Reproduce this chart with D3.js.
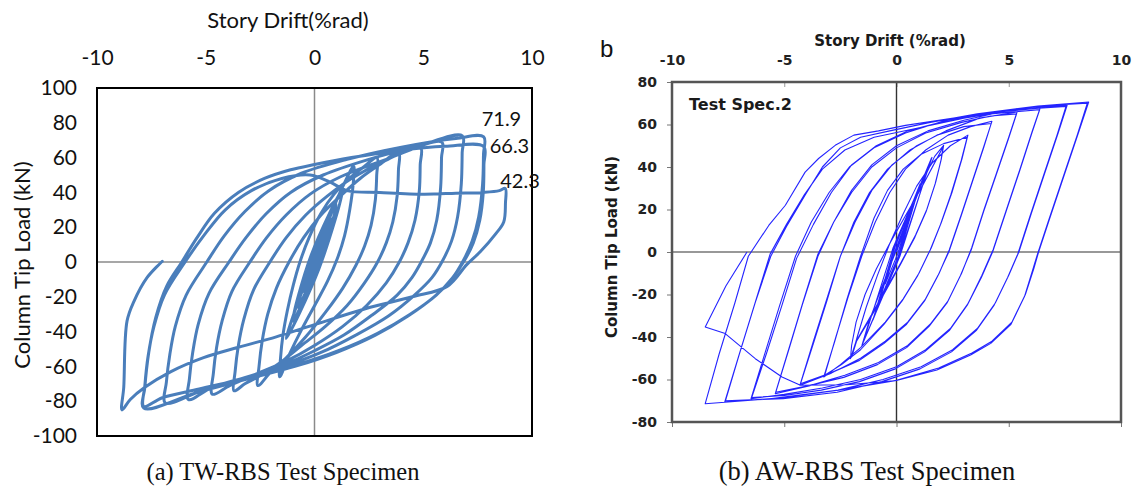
<!DOCTYPE html>
<html>
<head>
<meta charset="utf-8">
<script src="https://cdn.jsdelivr.net/npm/d3@7"></script>
<style>
  html, body { margin: 0; padding: 0; background: #fff; }
  svg { display: block; }
</style>
</head>
<body>
<svg id="chart" width="1137" height="488"></svg>
<script>
// ---------- axis ticks ----------
const driftTicks = [-10, -5, 0, 5, 10];
const twLoadTicks = [100, 80, 60, 40, 20, 0, -20, -40, -60, -80, -100];
const awLoadTicks = [80, 60, 40, 20, 0, -20, -40, -60, -80];
const plainNumber = d => String(d);

// ---------- TW-RBS specimen: [drift %rad, load kN] ----------
const twElastic = [[0,0],[0.5,17],[0.05,-1],[-0.5,-17],[-0.05,1],[0.75,25],[0.1,-2],[-0.75,-26],[-0.1,3],
  [1.0,33],[0.15,-3],[-1.0,-34],[-0.15,4],[1.3,42],[0.2,-4],[-1.3,-44]];
const twCycle2 = [[-0.9,-28],[-0.3,-8],[0.3,12],[0.9,32],[1.4,46],[1.8,55],
  [1.78,45],[1.62,30],[1.38,15],[1.05,2],[0.6,-11],[0.05,-24],[-0.6,-39],[-1.15,-53],[-1.6,-66]];
const twCycle3 = [[-1.56,-55],[-1.45,-42],[-1.25,-28],[-0.97,-13],[-0.67,0],[-0.25,14],[0.3,28],[0.9,39],[1.6,48],[2.3,55],[2.87,60],
  [2.86,50],[2.8,36],[2.6,21],[2.3,9],[1.9,-2],[1.3,-15],[0.5,-29],[-0.4,-43],[-1.3,-55],[-2.0,-63],[-2.6,-71]];
const twCycle4 = [[-2.55,-60],[-2.4,-45],[-2.15,-30],[-1.75,-15],[-1.17,0],[-0.5,14],[0.3,27],[1.2,38],[2.1,48],[3.0,56],[3.87,63],
  [3.86,53],[3.8,38],[3.6,23],[3.3,11],[2.9,0],[2.3,-12],[1.5,-25],[0.5,-37],[-0.6,-48],[-1.6,-58],[-2.6,-66],[-3.2,-70],[-3.7,-74]];
const twCycle5 = [[-3.65,-63],[-3.5,-48],[-3.25,-33],[-2.8,-16],[-2.05,0],[-1.3,14],[-0.4,27],[0.6,38],[1.7,48],[3.2,58],[4.87,66],
  [4.86,56],[4.82,41],[4.62,24],[4.3,11],[3.9,0],[3.3,-12],[2.4,-25],[1.3,-37],[0,-48],[-1.3,-57],[-2.8,-65],[-3.9,-71],[-4.7,-76]];
const twCycle6 = [[-4.65,-64],[-4.5,-49],[-4.25,-34],[-3.8,-17],[-2.97,0],[-2.2,14],[-1.3,27],[-0.2,39],[1.2,49],[3.3,59],[5.85,69],
  [5.84,60],[5.8,43],[5.62,24],[5.33,11],[4.95,1],[4.48,-9],[3.8,-19],[2.7,-30],[1.35,-42],[0,-51],[-1.4,-59],[-3.1,-66],[-4.7,-72],[-5.8,-79]];
const twCycle7 = [[-5.75,-67],[-5.6,-52],[-5.35,-36],[-4.85,-18],[-3.93,0],[-3.15,14],[-2.2,28],[-1.1,40],[0.4,50],[2.5,59],[4.6,66],[6.8,72.5],
  [6.79,63],[6.75,45],[6.58,26],[6.3,12],[5.9,1],[5.4,-9],[4.6,-19],[3.4,-31],[1.9,-42],[0.3,-52],[-1.4,-60],[-3.3,-67],[-5.2,-74],[-6.86,-81]];
const twCycle8a = [[-6.81,-69],[-6.65,-53],[-6.4,-37],[-5.9,-19],[-4.95,0],[-4.15,15],[-3.2,29],[-2.1,41],[-0.6,51],[1.5,59],[4.0,66],[6.5,71],[7.78,71.9],
  [7.77,62],[7.73,45],[7.55,26],[7.25,12],[6.85,1],[6.3,-10],[5.5,-20],[4.3,-31],[2.8,-42],[1.0,-52],[-0.9,-60],[-3.0,-67],[-5.4,-75],[-7.85,-84]];
const twCycle8b = [[-7.8,-72],[-7.62,-52],[-7.3,-32],[-6.8,-14],[-6.1,0],[-5.4,14],[-4.6,28],[-3.5,40],[-2.3,48],[-1.1,53],[0,56],[1.7,60],[3.8,64],[6.0,66.5],[7.78,66.3],
  [7.79,56],[7.76,40],[7.6,24],[7.3,11],[6.9,1],[6.35,-9],[5.6,-19],[4.4,-30],[2.9,-41],[1.1,-51],[-0.8,-59],[-2.9,-66],[-5.3,-73],[-7.0,-78],[-7.85,-83]];
const twCycle9 = [[-7.8,-71],[-7.65,-54],[-7.38,-37],[-6.9,-19],[-5.95,0],[-5.1,15],[-4.1,30],[-2.9,41],[-1.5,48],[-0.2,50],[0.7,46],[1.5,41],[3,40],[5,39],[6.5,39.5],[7.8,40],[8.5,41],[8.77,42.3],
  [8.78,34],[8.7,23],[8.32,16],[7.63,6],[7.0,-1.5],[6.1,-14],[4.5,-20],[2.3,-27],[0,-36],[-1.76,-43],[-3.5,-49],[-5.1,-55],[-6.6,-63],[-7.8,-72],[-8.47,-79],[-8.85,-85],
  [-8.77,-72],[-8.62,-34],[-8.3,-22.6],[-7.7,-9],[-7.0,0.4]];
const twTrace = [].concat(twElastic, twCycle2, twCycle3, twCycle4, twCycle5, twCycle6, twCycle7, twCycle8a, twCycle8b, twCycle9);

// peak loads written beside the last cycles (dx, dy: label offset from the peak, px)
const twPeakLabels = [
  { text: "71.9", drift: 7.78, load: 71.9, dx: -2, dy: -11 },
  { text: "66.3", drift: 7.78, load: 66.3, dx: 6, dy: 6 },
  { text: "42.3", drift: 8.77, load: 42.3, dx: -5, dy: 0 }
];

// ---------- AW-RBS specimen: [drift %rad, load kN] ----------
const awElastic = [[0,0],[0.5,15],[0.05,-1],[-0.5,-15],[-0.05,1],[0.75,23],[0.08,-2],[-0.75,-23],[-0.08,2],
  [1.05,32],[0.1,-2],[-1.05,-32],[-0.1,2],[1.55,44],[0.15,-2],[-1.5,-43],[-0.15,2],[1.58,44.5],[0.12,-2],[-1.54,-44]];
const awCycle2 = [[-1.2,-32],[-0.6,-15],[0,1],[0.6,18],[1.2,34],[1.7,45],[2.1,50.2],
  [2.0,44],[1.75,33],[1.35,20],[0.85,8],[0.2,-5],[-0.55,-19],[-1.25,-32],[-1.8,-42],[-2.05,-50.2],
  [-2.0,-44],[-1.8,-33],[-1.4,-20],[-0.9,-8],[-0.25,5],[0.45,18],[1.1,30],[1.65,41],[2.08,49.5],
  [1.98,43],[1.72,32],[1.32,19],[0.82,7],[0.17,-6],[-0.57,-20],[-1.27,-33],[-1.78,-42],[-2.0,-49.5]];
const awCycle3 = [[-1.75,-40],[-1.35,-26],[-0.85,-11],[-0.3,4],[0.3,18],[0.9,31],[1.6,42],[2.4,50],[3.18,55],
  [2.92,44],[2.47,28],[2.0,14],[1.55,2],[1.0,-10],[0.3,-22],[-0.5,-33],[-1.6,-45],[-2.5,-53],[-3.24,-58.8],
  [-2.75,-42],[-2.2,-22],[-1.6,-2],[-1.0,16],[-0.4,29],[0.3,39],[1.1,46],[2.1,51],[3.15,54],
  [2.88,43],[2.42,27],[1.96,13],[1.5,1],[0.95,-11],[0.25,-23],[-0.55,-34],[-1.6,-46],[-2.45,-53],[-3.2,-58]];
const awCycle4 = [[-2.7,-40],[-2.15,-21],[-1.55,-2],[-0.95,14],[-0.3,28],[0.4,39],[1.3,48],[2.3,55],[3.3,59],[4.25,61.5],
  [3.9,50],[3.4,34],[2.9,18],[2.35,1],[1.9,-10],[1.3,-22],[0.5,-33],[-0.5,-42],[-1.6,-50],[-2.9,-57],[-4.3,-62.7],
  [-3.7,-43],[-3.1,-23],[-2.5,-2],[-1.9,14],[-1.2,28],[-0.4,39],[0.6,48],[1.8,55],[3.0,59],[4.22,60.5],
  [3.88,49],[3.38,33],[2.88,17],[2.33,0],[1.85,-11],[1.25,-23],[0.45,-34],[-0.55,-43],[-1.65,-51],[-2.95,-57],[-4.28,-62]];
const awCycle5 = [[-3.7,-42],[-3.1,-22],[-2.5,-2],[-1.85,14],[-1.1,29],[-0.2,41],[0.9,50],[2.2,57],[3.7,63],[5.37,65.9],
  [5.0,54],[4.45,37],[3.9,20],[3.35,2],[2.9,-10],[2.3,-23],[1.5,-34],[0.5,-44],[-0.8,-52],[-2.3,-58],[-3.9,-63],[-5.4,-66.7],
  [-4.8,-46],[-4.2,-25],[-3.5,-2],[-2.8,14],[-2.0,28],[-1.1,40],[0,49],[1.3,56],[2.9,61],[4.2,64],[5.35,65],
  [4.98,53],[4.43,36],[3.88,19],[3.33,1],[2.85,-11],[2.25,-24],[1.45,-35],[0.45,-45],[-0.85,-53],[-2.35,-59],[-3.95,-63],[-5.38,-66]];
const awCycle6 = [[-4.75,-44],[-4.15,-23],[-3.5,-1],[-2.8,14],[-2.0,29],[-1.1,41],[0,50],[1.4,57],[3.0,62],[4.7,66],[6.4,67.8],
  [6.05,57],[5.5,39],[4.9,20],[4.3,1],[3.8,-11],[3.2,-24],[2.4,-36],[1.3,-46],[0,-54],[-1.6,-60],[-3.3,-64],[-5.0,-67],[-6.48,-69],
  [-5.9,-49],[-5.2,-25],[-4.5,-2],[-3.8,14],[-3.0,28],[-2.1,40],[-1.0,49],[0.4,56],[2.2,62],[4.2,65],[6.38,67],
  [6.03,56],[5.48,38],[4.88,19],[4.28,0],[3.78,-12],[3.15,-25],[2.35,-37],[1.25,-47],[-0.05,-55],[-1.65,-61],[-3.35,-65],[-5.0,-67.5],[-6.45,-68.5]];
const awCycle7 = [[-5.8,-48],[-5.1,-25],[-4.45,-3],[-3.7,13],[-2.9,28],[-2.0,41],[-0.9,50],[0.5,57],[2.3,62],[4.4,66],[6.0,68],[7.6,69],
  [7.2,56],[6.6,37],[6.0,18],[5.45,0],[5.0,-11],[4.4,-24],[3.6,-36],[2.5,-46],[1.1,-54],[-0.6,-60],[-2.6,-65],[-5.0,-68.5],[-7.65,-70.6],
  [-7.0,-48],[-6.3,-24],[-5.63,-1],[-4.9,13],[-4.1,27],[-3.3,39],[-2.3,48],[-1.0,54],[0.8,58],[3.0,63],[5.3,67],[7.55,68.5],
  [7.15,55],[6.55,36],[5.95,17],[5.4,-1],[4.95,-12],[4.35,-25],[3.55,-37],[2.45,-47],[1.05,-55],[-0.65,-61],[-2.65,-66],[-5.05,-69],[-7.62,-70]];
const awCycle8 = [[-7.0,-48],[-6.3,-24],[-5.6,-2],[-4.9,12],[-4.06,27],[-3.3,40],[-2.5,49],[-1.6,54],[-0.3,57],[1.5,61],[3.6,65],[6.3,68.7],[8.56,70.6],
  [8.1,56],[7.4,34],[6.8,15],[6.33,0],[6.11,-8],[5.74,-20],[5.14,-33],[4.25,-42],[3.36,-47.5],[1.88,-54.6],[0,-60.4],[-2.58,-65],[-5.55,-69],[-8.52,-71.4],
  [-7.9,-48],[-7.2,-24],[-6.6,-2],[-5.69,12.5],[-4.95,22],[-4.07,37.6],[-3.47,44],[-2.73,50.2],[-1.9,55],[-0.8,57],[0.4,59.6],[1.88,62],[3.36,64.3],[4.85,66.7],[6.33,68.7],[8.5,70],
  [8.05,55],[7.35,33],[6.75,14],[6.28,-1],[6.05,-9],[5.7,-21],[5.1,-34],[4.2,-43],[3.3,-48.5],[1.8,-55.5],[0,-60.5],[-2.2,-62.5],[-4.28,-62.7],
  [-5.1,-58.8],[-6.29,-50.2],[-7.63,-38.4],[-8.52,-35.3],[-7.6,-16],[-6.66,0]];
const awTrace = [].concat(awElastic, awCycle2, awCycle3, awCycle4, awCycle5, awCycle6, awCycle7, awCycle8);

// ---------- drawing ----------
const svg = d3.select("#chart");

// ===== Panel (a): TW-RBS =====
const ta = svg.append("g");
const xA = d3.scaleLinear().domain([-10, 10]).range([97, 532]);
const yA = d3.scaleLinear().domain([-100, 100]).range([436, 88]);
const fontA = "Lato, 'Open Sans', sans-serif";

ta.append("g")
  .attr("transform", `translate(0,${yA(100) - 23})`)
  .call(d3.axisTop(xA).tickValues(driftTicks).tickSize(0).tickPadding(0).tickFormat(plainNumber))
  .call(g => g.select(".domain").remove())
  .call(g => g.selectAll("text").attr("font-family", fontA).attr("font-size", 21).attr("fill", "#111"));

ta.append("g")
  .attr("transform", `translate(${xA(-10) - 20},0)`)
  .call(d3.axisLeft(yA).tickValues(twLoadTicks).tickSize(0).tickPadding(0).tickFormat(plainNumber))
  .call(g => g.select(".domain").remove())
  .call(g => g.selectAll("text").attr("font-family", fontA).attr("font-size", 21).attr("fill", "#111"));

// zero lines
ta.append("line").attr("x1", xA(0)).attr("x2", xA(0)).attr("y1", yA(100)).attr("y2", yA(-100))
  .attr("stroke", "#8a8a8a").attr("stroke-width", 1.5);
ta.append("line").attr("x1", xA(-10)).attr("x2", xA(10)).attr("y1", yA(0)).attr("y2", yA(0))
  .attr("stroke", "#8a8a8a").attr("stroke-width", 1.5);

ta.append("path")
  .datum(twTrace)
  .attr("fill", "none")
  .attr("stroke", "#4a7ebb")
  .attr("stroke-width", 3)
  .attr("stroke-linejoin", "round")
  .attr("stroke-linecap", "round")
  .attr("d", d3.line().x(d => xA(d[0])).y(d => yA(d[1])).curve(d3.curveCatmullRom.alpha(0.5)));

ta.append("rect").attr("x", xA(-10)).attr("y", yA(100))
  .attr("width", xA(10) - xA(-10)).attr("height", yA(-100) - yA(100))
  .attr("fill", "none").attr("stroke", "#000").attr("stroke-width", 2);

ta.selectAll("text.peak").data(twPeakLabels).join("text")
  .attr("class", "peak")
  .attr("x", d => xA(d.drift) + d.dx)
  .attr("y", d => yA(d.load) + d.dy)
  .attr("font-family", fontA).attr("font-size", 20).attr("fill", "#111")
  .text(d => d.text);

ta.append("text").attr("x", 288).attr("y", 28).attr("text-anchor", "middle")
  .attr("font-family", fontA).attr("font-size", 22).attr("fill", "#111")
  .text("Story Drift(%rad)");
ta.append("text").attr("transform", `translate(30,${yA(0) + 3}) rotate(-90)`).attr("text-anchor", "middle")
  .attr("font-family", fontA).attr("font-size", 22).attr("fill", "#111")
  .text("Column Tip Load (kN)");
ta.append("text").attr("x", 283).attr("y", 480).attr("text-anchor", "middle")
  .attr("font-family", "'Liberation Serif', 'Times New Roman', serif").attr("font-size", 24.5).attr("fill", "#111")
  .text("(a) TW-RBS Test Specimen");

// ===== Panel (b): AW-RBS =====
const tb = svg.append("g");
const xB = d3.scaleLinear().domain([-10, 10]).range([672, 1121]);
const yB = d3.scaleLinear().domain([-80, 80]).range([422, 82]);
const fontB = "'DejaVu Sans', 'Liberation Sans', Arial, sans-serif";

tb.append("g")
  .attr("transform", `translate(0,${yB(80)})`)
  .call(d3.axisTop(xB).tickValues(driftTicks).tickSizeInner(-5).tickSizeOuter(0).tickPadding(17).tickFormat(plainNumber))
  .call(g => g.select(".domain").remove())
  .call(g => g.selectAll("line").attr("stroke", "#999"))
  .call(g => g.selectAll("text").attr("font-family", fontB).attr("font-weight", "bold").attr("font-size", 14).attr("fill", "#222"));

tb.append("g")
  .attr("transform", `translate(0,${yB(-80)})`)
  .call(d3.axisBottom(xB).tickValues(driftTicks).tickSize(5).tickFormat(""))
  .call(g => g.select(".domain").remove())
  .call(g => g.selectAll("line").attr("stroke", "#777"));

tb.append("g")
  .attr("transform", `translate(${xB(-10)},0)`)
  .call(d3.axisLeft(yB).tickValues(awLoadTicks).tickSize(5).tickPadding(10).tickFormat(plainNumber))
  .call(g => g.select(".domain").remove())
  .call(g => g.selectAll("line").attr("stroke", "#777"))
  .call(g => g.selectAll("text").attr("font-family", fontB).attr("font-weight", "bold").attr("font-size", 14).attr("fill", "#222"));

tb.append("line").attr("x1", xB(0)).attr("x2", xB(0)).attr("y1", yB(80)).attr("y2", yB(-80))
  .attr("stroke", "#333").attr("stroke-width", 1.4);
tb.append("line").attr("x1", xB(-10)).attr("x2", xB(10)).attr("y1", yB(0)).attr("y2", yB(0))
  .attr("stroke", "#333").attr("stroke-width", 1.2);

tb.append("path")
  .datum(awTrace)
  .attr("fill", "none")
  .attr("stroke", "#2424ff")
  .attr("stroke-width", 1.1)
  .attr("stroke-linejoin", "round")
  .attr("d", d3.line().x(d => xB(d[0])).y(d => yB(d[1])));

tb.append("rect").attr("x", xB(-10)).attr("y", yB(80))
  .attr("width", xB(10) - xB(-10)).attr("height", yB(-80) - yB(80))
  .attr("fill", "none").attr("stroke", "#555").attr("stroke-width", 2.5);

tb.append("text").attr("x", 689).attr("y", 110)
  .attr("font-family", fontB).attr("font-weight", "bold").attr("font-size", 16).attr("fill", "#1a1a1a")
  .text("Test Spec.2");
tb.append("text").attr("x", 890).attr("y", 46).attr("text-anchor", "middle")
  .attr("font-family", fontB).attr("font-weight", "bold").attr("font-size", 15).attr("fill", "#1a1a1a")
  .text("Story Drift (%rad)");
tb.append("text").attr("transform", `translate(617,${yB(0) - 5}) rotate(-90)`).attr("text-anchor", "middle")
  .attr("font-family", fontB).attr("font-weight", "bold").attr("font-size", 15).attr("fill", "#1a1a1a")
  .text("Column Tip Load (kN)");
tb.append("text").attr("x", 600).attr("y", 57)
  .attr("font-family", "'Liberation Sans', Arial, sans-serif").attr("font-size", 24).attr("fill", "#111")
  .text("b");
tb.append("text").attr("x", 867).attr("y", 480).attr("text-anchor", "middle")
  .attr("font-family", "'Liberation Serif', 'Times New Roman', serif").attr("font-size", 26.5).attr("fill", "#111")
  .text("(b) AW-RBS Test Specimen");
</script>
</body>
</html>
